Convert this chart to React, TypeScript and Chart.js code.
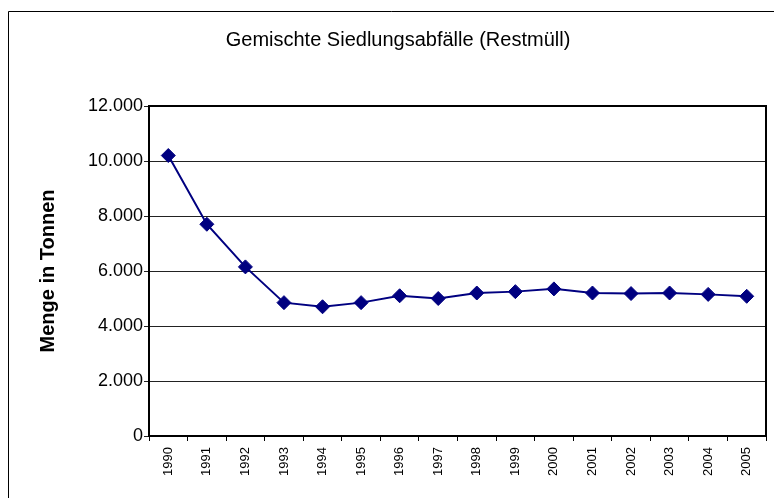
import React, { useEffect, useRef } from "react";
import { Chart, registerables } from "chart.js";

Chart.register(...registerables);

const years: string[] = [
  "1990", "1991", "1992", "1993", "1994", "1995", "1996", "1997",
  "1998", "1999", "2000", "2001", "2002", "2003", "2004", "2005",
];
const restmuell: number[] = [
  10200, 7700, 6150, 4850, 4700, 4850, 5100, 5000,
  5200, 5250, 5350, 5200, 5180, 5200, 5150, 5080,
];
const yTicks: number[] = [0, 2000, 4000, 6000, 8000, 10000, 12000];
const chartTitle = "Gemischte Siedlungsabfälle (Restmüll)";
const yTitle = "Menge in Tonnen";

const fmt = (v: number) => String(Math.round(v)).replace(/\B(?=(\d{3})+(?!\d))/g, ".");

const framePlugin = {
  id: "framePlugin",
  afterDraw(chart: any) {
    const { ctx, chartArea } = chart;
    ctx.save();
    // outer border (left + top)
    ctx.strokeStyle = "#000";
    ctx.lineWidth = 1;
    ctx.beginPath();
    ctx.moveTo(8.5, 498);
    ctx.lineTo(8.5, 11.5);
    ctx.lineTo(774, 11.5);
    ctx.stroke();
    // plot frame
    ctx.lineWidth = 2;
    ctx.strokeRect(chartArea.left, chartArea.top, chartArea.right - chartArea.left, chartArea.bottom - chartArea.top);
    // title
    ctx.fillStyle = "#000";
    ctx.font = "20px Arial, 'Liberation Sans', sans-serif";
    ctx.textAlign = "center";
    ctx.textBaseline = "alphabetic";
    ctx.fillText(chartTitle, 398, 46);
    ctx.restore();
  },
};

export default function App() {
  const ref = useRef<HTMLCanvasElement | null>(null);

  useEffect(() => {
    if (!ref.current) return;
    const chart = new Chart(ref.current, {
      type: "line",
      data: {
        labels: years,
        datasets: [
          {
            data: restmuell,
            borderColor: "#000080",
            backgroundColor: "#000080",
            borderWidth: 2,
            pointStyle: "rectRot",
            pointRadius: 7,
            pointBorderWidth: 1,
            pointBackgroundColor: "#000080",
            pointBorderColor: "#000080",
            tension: 0,
          },
        ],
      },
      options: {
        responsive: false,
        animation: false,
        devicePixelRatio: 1,
        layout: { padding: { top: 106, right: 8, bottom: 0, left: 0 } },
        plugins: {
          legend: { display: false },
          title: { display: false },
          tooltip: { enabled: false },
        },
        scales: {
          x: {
            type: "category",
            offset: true,
            afterFit: (s: any) => {
              s.height = 62;
            },
            grid: {
              display: true,
              offset: true,
              drawOnChartArea: false,
              drawTicks: true,
              tickLength: 5,
              color: "#000",
              lineWidth: 1,
            },
            border: { display: true, color: "#000", width: 2 },
            ticks: {
              minRotation: 90,
              maxRotation: 90,
              autoSkip: false,
              padding: 6,
              color: "#000",
              font: { family: "Arial, 'Liberation Sans', sans-serif", size: 13 },
            },
          },
          y: {
            min: 0,
            max: 12000,
            afterFit: (s: any) => {
              s.width = 149;
            },
            afterBuildTicks: (s: any) => {
              s.ticks = yTicks.map((v) => ({ value: v }));
            },
            grid: {
              display: true,
              drawOnChartArea: true,
              drawTicks: true,
              tickLength: 5,
              color: "#222",
              lineWidth: 1,
            },
            border: { display: true, color: "#000", width: 2 },
            ticks: {
              padding: 1,
              color: "#000",
              font: { family: "Arial, 'Liberation Sans', sans-serif", size: 18 },
              callback: (v: any) => fmt(Number(v)),
            },
            title: {
              display: true,
              text: yTitle,
              color: "#000",
              padding: { top: 36, bottom: 0 },
              font: { family: "Arial, 'Liberation Sans', sans-serif", size: 20, weight: "bold" },
            },
          },
        },
      },
      plugins: [framePlugin],
    });
    return () => chart.destroy();
  }, []);

  return (
    <div style={{ position: "absolute", left: 0, top: 0, width: 774, height: 498, background: "#fff" }}>
      <canvas ref={ref} width={774} height={498} style={{ display: "block", width: 774, height: 498 }} />
    </div>
  );
}
